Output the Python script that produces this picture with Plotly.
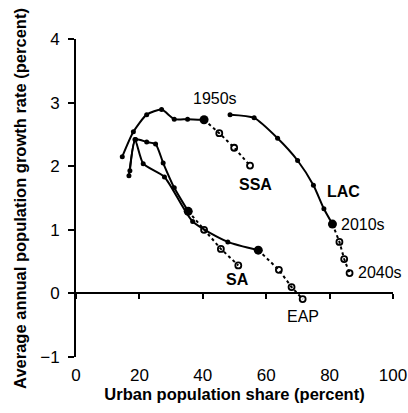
import plotly.graph_objects as go

# Data (urban share %, growth rate %), 1950s..2010s observed, 2020s..2040s projected
ssa_x = [14.6, 18.1, 22.3, 27.0, 31.0, 35.2, 40.4]
ssa_y = [2.15, 2.54, 2.81, 2.89, 2.74, 2.74, 2.73]
ssa_px = [45.2, 49.9, 54.9]
ssa_py = [2.52, 2.29, 2.01]

lac_x = [48.6, 56.2, 63.6, 69.9, 74.9, 78.2, 80.9]
lac_y = [2.81, 2.76, 2.44, 2.09, 1.70, 1.33, 1.09]
lac_px = [83.1, 84.6, 86.3]
lac_py = [0.81, 0.54, 0.32]

sa_x = [17.0, 18.8, 22.3, 25.1, 27.5, 31.0, 35.4]
sa_y = [1.93, 2.42, 2.38, 2.35, 2.05, 1.66, 1.29]
sa_px = [40.4, 45.7, 51.2]
sa_py = [1.00, 0.70, 0.44]

eap_x = [16.7, 18.6, 21.2, 27.9, 36.8, 47.9, 57.5]
eap_y = [1.85, 2.42, 2.04, 1.83, 1.13, 0.81, 0.68]
eap_px = [64.0, 68.0, 71.5]
eap_py = [0.37, 0.10, -0.09]

x_ticks = [0, 20, 40, 60, 80, 100]
y_ticks = [-1, 0, 1, 2, 3, 4]

FONT = "Liberation Sans, Arial, sans-serif"

fig = go.Figure()

for xs, ys, pxs, pys in [
    (ssa_x, ssa_y, ssa_px, ssa_py),
    (lac_x, lac_y, lac_px, lac_py),
    (sa_x, sa_y, sa_px, sa_py),
    (eap_x, eap_y, eap_px, eap_py),
]:
    # projected dotted segment
    fig.add_trace(go.Scatter(
        x=[xs[-1]] + pxs, y=[ys[-1]] + pys, mode="lines",
        line=dict(color="black", width=2, dash="dot"),
        showlegend=False, hoverinfo="skip"))
    fig.add_trace(go.Scatter(
        x=pxs, y=pys, mode="markers",
        marker=dict(symbol="circle-open", size=6, color="black",
                    line=dict(width=1.8, color="black")),
        showlegend=False))
    # observed solid
    fig.add_trace(go.Scatter(
        x=xs, y=ys, mode="lines+markers",
        line=dict(color="black", width=2, shape="spline", smoothing=0.6),
        marker=dict(size=5, color="black"),
        showlegend=False))
    fig.add_trace(go.Scatter(
        x=[xs[-1]], y=[ys[-1]], mode="markers",
        marker=dict(size=9, color="black"),
        showlegend=False))

# invisible trace for the zero-line axis
fig.add_trace(go.Scatter(x=[0, 100], y=[0, 0], xaxis="x2", mode="markers",
                         marker=dict(opacity=0), showlegend=False, hoverinfo="skip"))

annotations = [
    dict(x=43.8, y=3.07, text="1950s", bold=False, xanchor="center"),
    dict(x=56.5, y=1.72, text="SSA", bold=True, xanchor="center"),
    dict(x=84.5, y=1.60, text="LAC", bold=True, xanchor="center"),
    dict(x=83.0, y=1.08, text="2010s", bold=False, xanchor="left"),
    dict(x=88.2, y=0.33, text="2040s", bold=False, xanchor="left"),
    dict(x=51.1, y=0.22, text="SA", bold=True, xanchor="center"),
    dict(x=71.6, y=-0.36, text="EAP", bold=False, xanchor="center"),
]
for a in annotations:
    fig.add_annotation(
        x=a["x"], y=a["y"], xref="x", yref="y",
        text=("<b>%s</b>" % a["text"]) if a["bold"] else a["text"],
        showarrow=False, xanchor=a["xanchor"], yanchor="middle",
        font=dict(family=FONT, size=16, color="black"))

# y-axis title as a rotated annotation (single line)
fig.add_annotation(
    x=20, y=0.5, xref="paper", yref="paper",
    text="<b>Average annual population growth rate (percent)</b>",
    showarrow=False, textangle=-90, xanchor="center", yanchor="middle",
    font=dict(family=FONT, size=16.5, color="black"))
fig.layout.annotations[-1].update(x=-0.177)

fig.update_layout(
    width=408, height=413,
    margin=dict(l=76, r=15, t=39, b=56, autoexpand=False),
    paper_bgcolor="white", plot_bgcolor="white",
    font=dict(family=FONT, size=17, color="black"),
    xaxis=dict(range=[0, 100], tickvals=x_ticks, showline=False, showgrid=False,
               zeroline=False, ticks="outside", ticklen=3, automargin=False,
               tickcolor="rgba(0,0,0,0)",
               title=dict(text="<b>Urban population share (percent)</b>",
                          font=dict(size=16.5), standoff=0)),
    xaxis2=dict(range=[0, 100], tickvals=x_ticks, overlaying="x", anchor="free",
                position=0.2, showline=True, linecolor="black", linewidth=2,
                ticks="outside", ticklen=5, tickwidth=1.5, tickcolor="black",
                showticklabels=False, showgrid=False, zeroline=False, automargin=False),
    yaxis=dict(range=[-1, 4], tickvals=y_ticks,
               ticktext=["\u22121", "0", "1", "2", "3", "4"],
               showline=True, linecolor="black", linewidth=2, automargin=False,
               ticks="outside", ticklen=6, tickwidth=1.5, tickcolor="black",
               ticklabelstandoff=5,
               showgrid=False, zeroline=False),
)

fig.write_html("out.html")
